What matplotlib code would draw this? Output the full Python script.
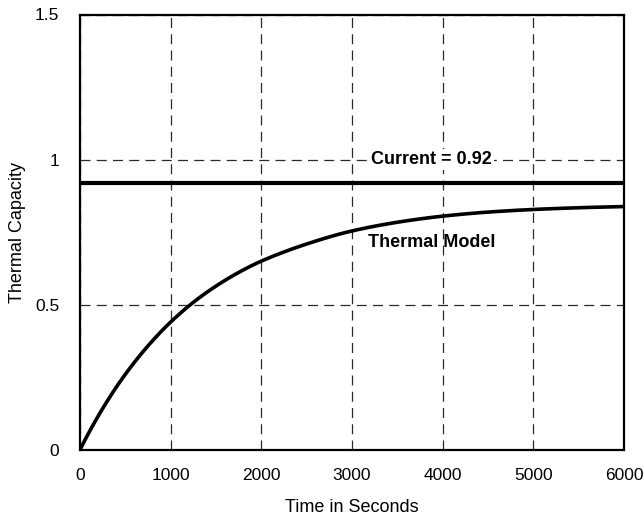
import matplotlib
matplotlib.use("Agg")
import matplotlib.pyplot as plt
import numpy as np

plt.rcParams['font.family'] = ['Liberation Sans', 'DejaVu Sans']

time_s = [0, 250, 500, 750, 1000, 1250, 1500, 1750, 2000, 2500, 3000,
          3500, 4000, 4500, 5000, 5500, 6000]
thermal_model = [0.0, 0.142, 0.260, 0.358, 0.440, 0.508, 0.564, 0.611, 0.650,
                 0.709, 0.754, 0.784, 0.805, 0.819, 0.828, 0.834, 0.838]
current_level = 0.92
x_ticks = [0, 1000, 2000, 3000, 4000, 5000, 6000]
y_ticks = [0, 0.5, 1, 1.5]
y_tick_labels = ['0', '0.5', '1', '1.5']

fig = plt.figure(figsize=(6.44, 5.16), dpi=100)
ax = fig.add_axes([80/644, (516-449.7)/516, 544/644, 435.2/516])


def pchip(x, y, xi):
    x = np.asarray(x, float); y = np.asarray(y, float)
    h = np.diff(x); d = np.diff(y) / h
    m = np.zeros_like(y)
    for k in range(1, len(x) - 1):
        if d[k-1] * d[k] > 0:
            w1 = 2*h[k] + h[k-1]; w2 = h[k] + 2*h[k-1]
            m[k] = (w1 + w2) / (w1/d[k-1] + w2/d[k])
    m[0] = d[0] * 1.1
    m[-1] = d[-1] * 0.8
    idx = np.clip(np.searchsorted(x, xi, side='right') - 1, 0, len(h) - 1)
    t = (xi - x[idx]) / h[idx]
    h00 = 2*t**3 - 3*t**2 + 1; h10 = t**3 - 2*t**2 + t
    h01 = -2*t**3 + 3*t**2; h11 = t**3 - t**2
    return h00*y[idx] + h10*h[idx]*m[idx] + h01*y[idx+1] + h11*h[idx]*m[idx+1]


tt = np.linspace(0, 6000, 600)
ax.plot(tt, pchip(time_s, thermal_model, tt), color='black', lw=2.6, zorder=3,
        solid_capstyle='butt')
ax.axhline(current_level, color='black', lw=3, zorder=3)

ax.set_xlim(0, 6000)
ax.set_ylim(0, 1.5)
ax.set_xticks(x_ticks)
ax.set_xticklabels([str(v) for v in x_ticks])
ax.set_yticks(y_ticks)
ax.set_yticklabels(y_tick_labels)
ax.tick_params(axis='both', length=0, labelsize=12.5)
ax.tick_params(axis='x', pad=13)
ax.tick_params(axis='y', pad=15)

ax.grid(True, color='#2a2a2a', lw=0.9, linestyle=(0, (8, 5)))
ax.set_axisbelow(True)
for s in ax.spines.values():
    s.set_linewidth(1.6)
    s.set_zorder(4)

ax.set_xlabel('Time in Seconds', fontsize=13, labelpad=12)
ax.set_ylabel('Thermal Capacity', fontsize=13, labelpad=6)

ax.text(3880, 1.0, 'Current = 0.92', fontsize=13, fontweight='bold',
        ha='center', va='center', zorder=2,
        bbox=dict(facecolor='white', edgecolor='none', pad=1.5))
ax.text(3880, 0.714, 'Thermal Model', fontsize=13, fontweight='bold',
        ha='center', va='center', zorder=2)

fig.savefig('out.png', dpi=100)
